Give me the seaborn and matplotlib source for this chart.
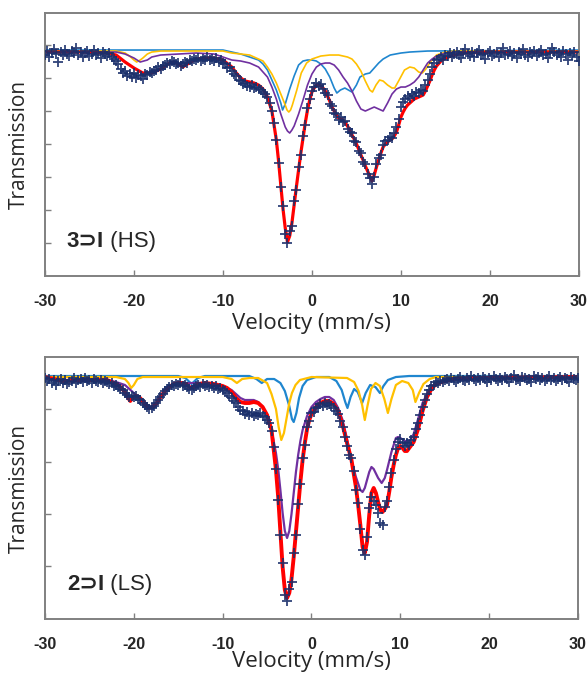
import numpy as np
import matplotlib
matplotlib.use("Agg")
import matplotlib.pyplot as plt
import seaborn as sns

sns.set_style("ticks")

# channel velocities, mm/s (0.25 mm/s per channel)
velocity = np.linspace(-30, 30, 241)

# ---------------- 3>I (HS) ----------------
# measured absorption (% below baseline), one row per mm/s
hs_data = [
    0.4, 0.0, 0.6, 0.2,  -0.2, 0.3, 1.1, 0.1,  0.4, -0.1, 0.3, 0.5,  0.0, 0.2, -0.3, 0.4,
    0.1, 0.6, 0.2, 0.0,  0.5, 0.3, -0.1, 0.4,  0.2, 0.7, 0.1, 0.3,  0.5, 0.2, 0.6, 0.8,
    1.0, 1.3, 1.8, 2.2,  2.0, 2.5, 2.3, 2.6,  2.2, 2.7, 2.4, 2.5,  2.8, 2.3, 2.4, 2.1,
    2.2, 2.0, 1.9, 1.6,  1.8, 1.5, 1.4, 1.2,  1.3, 1.0, 1.1, 1.3,  1.2, 1.5, 1.3, 1.1,
    1.2, 0.9, 1.0, 0.8,  0.9, 0.7, 1.0, 0.8,  0.9, 0.6, 0.9, 0.8,  1.0, 0.7, 1.1, 0.9,
    1.2, 1.3, 1.7, 1.6,  2.0, 2.3, 2.5, 2.9,  3.0, 3.3, 3.2, 3.5,  3.6, 3.4, 3.7, 3.6,
    3.8, 3.9, 4.1, 4.3,  4.6, 5.2, 6.0, 7.2,  8.9, 11.2, 13.6, 15.5,  18.3, 19.2, 18.0, 17.5,
    15.0, 13.9, 11.6, 10.4,  8.5, 7.4, 5.7, 4.8,  4.0, 3.6, 3.2, 3.5,  3.3, 3.8, 4.2, 4.4,
    5.3, 5.5, 6.2, 6.3,  6.9, 6.6, 7.1, 7.0,  7.8, 8.1, 8.2, 9.0,  9.1, 10.0, 10.2, 11.1,
    11.3, 12.3, 12.7, 13.3,  12.6, 11.3, 10.7, 10.4,  9.4, 9.0, 8.9, 8.6,  8.7, 8.2, 7.6, 6.8,
    5.6, 5.1, 4.8, 4.5,  4.7, 4.3, 4.5, 4.1,  4.2, 3.9, 4.0, 3.4,  2.9, 2.3, 1.6, 1.2,
    0.9, 0.8, 0.6, 0.9,  0.4, 0.5, 0.2, 0.6,  0.3, 0.1, 0.4, 0.7,  0.2, -0.2, 0.3, 0.5,
    0.1, 0.6, 0.2, -0.1,  0.4, 0.3, 0.8, 0.2,  0.0, 0.5, 0.3, 0.1,  0.6, 0.2, -0.3, 0.4,
    0.3, 0.0, 0.5, 0.2,  0.7, 0.1, 0.3, -0.2,  0.4, 0.6, 0.1, 0.3,  0.0, 0.5, 0.2, -0.1,
    0.4, 0.3, 0.7, 0.2,  -0.3, 0.1, 0.4, 0.2,  0.6, 0.0, 0.3, 0.9,  0.2, 0.4, 0.1, 0.6,
    1.0,
]

hs_total_v = [-30, -26, -23, -22, -21, -20, -19, -18, -17, -16, -15.5, -15, -14.5, -14, -13, -12,
              -11, -10, -9, -8.5, -8, -7.5, -7, -6.5, -6, -5.5, -5, -4.5, -4, -3.75, -3.5, -3.25,
              -3, -2.75, -2.5, -2.25, -2, -1.75, -1.5, -1.25, -1, -0.75, -0.5, -0.25, 0, 0.25,
              0.5, 0.75, 1, 1.25, 1.5, 1.75, 2, 2.25, 2.5, 2.75, 3, 3.25, 3.5, 3.75, 4, 4.25,
              4.5, 4.75, 5, 5.25, 5.5, 5.75, 6, 6.25, 6.5, 6.75, 7, 7.25, 7.5, 7.75, 8, 8.25,
              8.5, 8.75, 9, 9.25, 9.5, 9.75, 10, 10.25, 10.5, 10.75, 11, 11.25, 11.5, 11.75, 12,
              12.25, 12.5, 12.75, 13, 13.25, 13.5, 13.75, 14, 14.5, 15, 16, 17, 20, 30]
hs_total_a = [0.1, 0.1, 0.2, 0.4, 1.1, 1.7, 2.2, 2.2, 1.8, 1.2, 1.1, 1.3, 1.6, 1.3, 0.8, 0.7,
              0.7, 0.9, 1.6, 2.2, 2.7, 3.0, 3.1, 3.2, 3.4, 3.8, 4.6, 6.0, 8.9, 11.0, 13.4, 15.8,
              17.7, 19.1, 18.5, 17.2, 15.4, 13.6, 11.9, 10.2, 8.7, 7.2, 5.9, 4.9, 4.1, 3.7,
              3.4, 3.4, 3.5, 3.7, 4.0, 4.5, 5.0, 5.6, 6.0, 6.4, 6.7, 6.8, 6.9, 7.2, 7.5, 7.9,
              8.4, 8.8, 9.3, 9.8, 10.4, 10.9, 11.5, 12.0, 12.5, 13.0, 12.4, 11.6, 10.9, 10.2, 9.6, 9.3,
              9.1, 8.9, 8.8, 8.5, 8.1, 7.4, 6.6, 6.1, 5.7, 5.4, 5.2, 5.0, 4.8, 4.7, 4.6,
              4.5, 4.4, 4.0, 3.5, 3.0, 2.4, 1.9, 1.5, 1.0, 0.7, 0.4, 0.2, 0.1, 0.1]

hs_purple_v = [-30, -22, -21, -20, -19.3, -18.5, -18, -17, -15, -13, -11, -9, -8, -7, -6, -5.5,
               -5, -4.5, -4, -3.5, -3, -2.75, -2.5, -2.25, -2, -1.5, -1, -0.5, 0, 0.5, 1, 1.5,
               2, 2.5, 3, 3.5, 4, 4.5, 5, 5.5, 6, 6.5, 7, 7.5, 8, 8.5, 9, 9.5, 10, 10.5, 11,
               11.5, 12, 12.5, 13, 13.5, 14, 15, 16, 30]
hs_purple_a = [0.1, 0.1, 0.3, 0.7, 1.1, 0.9, 0.6, 0.4, 0.3, 0.2, 0.3, 0.9, 1.0, 1.2, 1.6, 2.1,
               2.6, 3.6, 4.8, 6.3, 7.6, 8.0, 8.2, 7.9, 7.5, 6.3, 4.9, 3.4, 2.3, 1.6, 1.3, 1.2,
               1.2, 1.4, 1.9, 2.6, 3.2, 4.0, 5.0, 5.8, 6.0, 5.8, 5.6, 5.8, 6.0, 5.2, 4.3, 3.8,
               3.6, 3.6, 3.4, 3.1, 2.6, 1.9, 1.2, 0.8, 0.5, 0.2, 0.1, 0.1]

hs_yellow_v = [-30, -22, -21, -20.5, -20, -19.7, -19.3, -19, -18.5, -18, -17, -10, -9, -7, -6,
               -5.5, -5, -4.5, -4, -3.5, -3, -2.8, -2.6, -2.4, -2.2, -1.7, -1.2, -0.6, 0, 1, 2,
               3, 3.5, 4, 4.5, 5, 5.5, 6, 6.5, 6.8, 7.2, 7.6, 8, 8.5, 9, 9.3, 9.8, 10.4, 11,
               11.5, 12, 12.4, 12.8, 13.3, 14, 15, 16, 30]
hs_yellow_a = [0.0, 0.0, 0.2, 0.5, 0.9, 1.1, 0.9, 0.7, 0.3, 0.1, 0.0, 0.0, 0.2, 0.4, 0.8,
               1.0, 1.6, 2.3, 3.2, 4.3, 5.4, 5.9, 6.1, 5.9, 5.4, 3.9, 2.2, 1.2, 0.8, 0.5, 0.4,
               0.4, 0.5, 0.6, 0.8, 1.3, 2.0, 3.0, 3.9, 4.1, 3.4, 2.9, 3.0, 3.4, 3.7, 3.7, 2.9,
               1.9, 1.6, 1.7, 2.1, 2.2, 1.8, 1.1, 0.4, 0.1, 0.0, 0.0]

hs_blue_v = [-30, -10, -9, -8, -7, -6, -5.5, -5, -4.5, -4, -3.5, -3.3, -3, -2.5, -2, -1.5, -1,
             -0.5, 0, 0.5, 1, 1.5, 2, 2.5, 2.8, 3.2, 3.7, 4.1, 4.5, 5, 5.4, 6, 6.5, 7, 7.5, 8,
             8.8, 10, 11, 13, 30]
hs_blue_a = [-0.1, -0.1, 0.1, 0.3, 0.6, 0.9, 1.3, 1.9, 2.9, 3.9, 5.2, 5.9, 5.3, 3.8, 2.5, 1.4,
             1.0, 0.9, 0.9, 1.0, 1.3, 1.8, 2.6, 3.7, 4.2, 3.9, 3.7, 3.9, 4.1, 3.4, 2.6, 2.3,
             2.2, 1.7, 1.2, 0.8, 0.4, 0.2, 0.1, 0.0, -0.1]

# ---------------- 2>I (LS) ----------------
ls_data = [
    0.1, 0.4, 0.2, 0.6,  0.3, 0.8, 0.4, 0.2,  0.6, 0.3, 0.7, 0.5,  0.4, 0.1, 0.6, 0.3,
    0.2, 0.5, 0.1, 0.4,  0.3, 0.6, 0.2, 0.4,  0.5, 0.3, 0.6, 0.4,  0.5, 0.7, 0.6, 0.9,
    0.8, 1.0, 1.2, 1.3,  1.6, 1.8, 2.0, 1.9,  2.0, 1.9, 2.2, 2.3,  2.6, 2.8, 3.0, 3.2,
    3.1, 2.9, 2.6, 2.3,  2.0, 1.7, 1.4, 1.2,  1.0, 0.8, 0.9, 0.7,  0.8, 0.6, 0.9, 0.8,
    1.0, 1.2, 1.3, 1.1,  0.9, 0.8, 1.0, 0.7,  0.9, 0.8, 1.0, 0.9,  1.1, 0.9, 1.2, 1.1,
    1.3, 1.4, 1.6, 1.9,  2.1, 2.4, 2.6, 3.0,  3.3, 3.4, 3.7, 3.5,  3.8, 3.6, 3.9, 3.7,
    3.8, 3.6, 3.9, 4.0,  4.3, 4.6, 5.4, 7.0,  9.2, 12.3, 15.8, 18.6,  21.8, 22.4, 21.2, 20.5,
    17.6, 15.8, 12.7, 10.7,  8.1, 6.8, 5.0, 4.4,  3.6, 3.5, 3.1, 3.0,  2.7, 2.9, 2.6, 2.8,
    2.7, 2.9, 3.1, 3.4,  3.7, 4.4, 5.0, 6.0,  6.9, 7.8, 8.1, 9.4,  11.3, 12.6, 15.2, 17.3,
    17.8, 16.0, 13.1, 12.0,  12.4, 12.8, 13.6, 14.6,  14.8, 13.0, 12.4, 11.0,  9.6, 8.3, 7.2, 6.5,
    6.2, 6.6, 6.9, 6.6,  6.8, 6.3, 6.0, 5.2,  4.6, 3.8, 3.0, 2.3,  1.7, 1.3, 0.9, 0.8,
    0.5, 0.6, 0.4, 0.5,  0.3, 0.2, 0.4, 0.1,  0.3, 0.5, 0.2, 0.0,  0.3, 0.4, 0.1, 0.3,
    -0.1, 0.2, 0.4, 0.1,  0.3, 0.0, 0.2, 0.5,  0.1, 0.3, -0.1, 0.2,  0.4, 0.1, 0.3, 0.0,
    0.2, 0.5, 0.1, -0.2,  0.3, 0.2, 0.4, 0.0,  0.1, 0.3, 0.2, 0.5,  -0.1, 0.2, 0.0, 0.3,
    0.1, 0.4, 0.2, -0.1,  0.3, 0.1, 0.4, 0.2,  0.0, 0.3, 0.1, 0.2,  0.5, 0.0, 0.2, 0.3,
    0.1,
]

ls_total_v = [-30, -28, -26, -24, -23, -22, -21.5, -21, -20.7, -20.4, -20.1, -19.7, -19.3, -18.8,
              -18.3, -17.9, -17.4, -17, -16.5, -16, -15.5, -15, -14.5, -14, -13.6, -13.2, -12.7,
              -12, -11, -10, -9.5, -9, -8.5, -8, -7.5, -7, -6.5, -6, -5.5, -5, -4.5, -4, -3.75,
              -3.5, -3.25, -3, -2.75, -2.5, -2.25, -2, -1.75, -1.5, -1.25, -1, -0.75, -0.5,
              -0.25, 0, 0.5, 1, 1.5, 2, 2.5, 3, 3.5, 4, 4.5, 5, 5.25, 5.5, 5.75, 6, 6.25, 6.5,
              6.75, 7, 7.25, 7.5, 7.75, 8, 8.25, 8.5, 8.75, 9, 9.25, 9.5, 9.75, 10, 10.25, 10.5,
              10.75, 11, 11.5, 12, 12.5, 13, 13.5, 14, 15, 16, 18, 30]
ls_total_a = [0.0, 0.4, 0.3, 0.3, 0.3, 0.7, 1.0, 1.5, 2.0, 2.4, 2.0, 1.9, 2.1, 2.6,
              3.1, 3.0, 2.6, 2.0, 1.4, 1.0, 0.7, 0.6, 0.6, 0.8, 1.1, 1.0, 0.7,
              0.6, 0.7, 0.9, 1.1, 1.5, 2.1, 2.5, 2.6, 2.6, 2.5, 2.6, 3.0, 3.8, 5.3, 9.3, 12.0,
              15.5, 19.0, 21.3, 22.1, 21.6, 20.2, 18.0, 15.5, 13.0, 10.5, 8.3, 6.6, 5.2,
              4.3, 3.7, 3.0, 2.6, 2.4, 2.4, 2.7, 3.4, 4.8, 6.6, 8.3, 11.0, 12.8, 14.8, 17.0, 17.6, 16.5, 13.8,
              11.6, 11.1, 11.6, 12.5, 13.3, 13.5, 13.2, 12.8, 11.5, 10.0, 8.8, 7.8, 7.1, 6.9, 7.1, 7.4,
              7.4, 7.1, 6.5, 5.2, 3.4, 2.0, 1.2, 0.7, 0.4, 0.2, 0.1, 0.0]

ls_purple_v = [-30, -28, -26, -24, -23, -22, -21, -20.5, -20, -19.5, -19, -18.5, -18.2, -17.8,
               -17.4, -17, -16.5, -16, -15.5, -15, -14, -13, -12, -11, -10, -9.5, -9, -8.5, -8,
               -7.5, -7, -6.5, -6, -5.5, -5, -4.5, -4, -3.75, -3.5, -3.25, -3, -2.75, -2.5,
               -2.25, -2, -1.75, -1.5, -1.25, -1, -0.5, 0, 0.5, 1, 1.5, 2, 2.5, 3, 3.5, 4, 4.5,
               5, 5.5, 5.75, 6, 6.5, 6.75, 7, 7.5, 7.9, 8.25, 8.5, 9, 9.5, 9.75, 10, 10.5, 11,
               11.5, 12, 12.5, 13, 13.5, 14, 15, 16, 18, 30]
ls_purple_a = [0.0, 0.4, 0.4, 0.3, 0.3, 0.5, 0.8, 1.2, 1.6, 2.1, 2.6, 3.0, 3.1, 3.0,
               2.6, 2.0, 1.4, 1.0, 0.7, 0.6, 0.6, 0.6, 0.6, 0.7, 0.9, 1.1, 1.3, 1.7, 2.1,
               2.3, 2.3, 2.3, 2.5, 3.0, 3.8, 5.3, 7.6, 9.2, 11.3, 13.6, 15.4, 16.1, 15.4,
               13.7, 11.6, 9.5, 7.8, 6.4, 5.3, 3.9, 3.0, 2.5, 2.2, 2.0, 2.0, 2.3, 3.1, 4.3, 6.2, 8.3,
               10.0, 11.3, 11.5, 11.1, 9.5, 9.0, 9.2, 10.1, 10.6, 10.1, 9.3, 7.5, 6.1, 6.0, 6.1, 6.4, 6.5,
               5.7, 4.2, 2.6, 1.7, 1.0, 0.6, 0.3, 0.2, 0.1, 0.0]

ls_yellow_v = [-30, -22, -21, -20.6, -20.3, -20.0, -19.6, -19, -10, -9, -8.4, -7.8, -7, -6, -5,
               -4.5, -4, -3.7, -3.4, -3.1, -2.8, -2.5, -2.2, -1.8, -1.3, 0, 4, 4.8, 5.3, 5.7,
               6.0, 6.3, 6.7, 7.2, 7.7, 8.2, 8.6, 9.0, 9.5, 10.2, 10.9, 11.4, 11.7, 12.1, 12.6,
               13.3, 14, 30]
ls_yellow_a = [0.0, 0.0, 0.2, 0.6, 1.1, 0.8, 0.2, 0.0, 0.0, 0.2, 0.6, 0.2, 0.1, 0.1, 0.6,
               1.7, 3.2, 5.0, 6.3, 5.6, 4.1, 2.6, 1.6, 0.8, 0.3, 0.0, 0.1, 0.5, 1.4, 2.8,
               4.3, 2.9, 1.2, 0.6, 0.9, 2.2, 3.6, 2.2, 0.8, 0.4, 0.6, 1.3, 2.5, 1.6, 0.7,
               0.2, 0.0, 0.0]

ls_blue_v = [-30, -15, -14.2, -13.5, -12.8, -12, -7, -6.2, -5.6, -5.0, -4.2, -3.5, -3.0, -2.5,
             -2.2, -2.0, -1.7, -1.4, -1.0, -0.5, 0.5, 2, 2.8, 3.4, 3.8, 4.05, 4.4, 4.8, 5.2,
             5.7, 6.1, 6.6, 7.2, 7.7, 8.1, 8.6, 9.5, 11, 30]
ls_blue_a = [-0.1, -0.1, 0.1, 0.7, 0.1, -0.1, -0.1, 0.2, 0.6, 0.2, 0.2, 0.6, 1.4, 2.9,
             4.2, 4.5, 3.6, 2.1, 0.9, 0.3, 0.0, 0.0, 0.4, 1.3, 2.5, 3.1, 2.0, 1.2, 1.5,
             2.6, 1.6, 0.8, 1.0, 1.6, 0.9, 0.3, 0.0, -0.1, -0.1]

xticks = [-30, -20, -10, 0, 10, 20, 30]

RED, PURPLE, YELLOW, BLUE, NAVY = "#FF0000", "#7030A0", "#FFC000", "#1F86CF", "#1A2F6B"
GRAY = "#808080"
TEXT_FONT = ["Liberation Sans", "DejaVu Sans"]


def trans(a):
    # transmission (%) from absorption below baseline
    return 100 - np.asarray(a, dtype=float)


def draw_panel(ax, data, curves, label_bold, label_rest, ylim, yticks, xlabelpad):
    for (v, a, c, lw) in curves:
        sns.lineplot(x=v, y=trans(a), ax=ax, color=c, linewidth=lw, sort=False,
                     estimator=None, zorder=2)
    sns.scatterplot(x=velocity, y=trans(data), ax=ax, marker="+", s=42,
                    color=NAVY, linewidth=1.3, alpha=0.9, zorder=5)
    ax.set_xlim(-30, 30)
    ax.set_ylim(*ylim)
    ax.set_xticks(xticks)
    ax.set_xticklabels([str(t) for t in xticks], fontsize=11.5, fontweight="bold",
                       family="Liberation Sans")
    ax.set_yticks(yticks)
    ax.set_yticklabels([])
    ax.tick_params(direction="in", length=4, width=1, color=GRAY, pad=13)
    for s in ax.spines.values():
        s.set_visible(True)
        s.set_color(GRAY)
        s.set_linewidth(1.4)
    ax.set_xlabel("Velocity (mm/s)", fontsize=16, family="Open Sans", labelpad=xlabelpad)
    ax.set_ylabel("Transmission", fontsize=15, family="Open Sans")
    ax.yaxis.set_label_coords(-0.028, 0.5)
    t1 = ax.text(0.041, 0.13, label_bold, transform=ax.transAxes, fontsize=16,
                 fontweight="bold", family=TEXT_FONT, va="center", ha="left")
    ax.annotate(label_rest, xy=(1, 0.5), xycoords=t1, fontsize=16, family=TEXT_FONT,
                va="center", ha="left")


fig = plt.figure(figsize=(5.88, 6.75), dpi=100)
ax_hs = fig.add_axes([0.0765, 0.5911, 0.908, 0.3896])
ax_ls = fig.add_axes([0.0765, 0.0830, 0.9065, 0.3881])

draw_panel(ax_hs, hs_data,
           [(hs_blue_v, hs_blue_a, BLUE, 1.2), (hs_yellow_v, hs_yellow_a, YELLOW, 1.2),
            (hs_purple_v, hs_purple_a, PURPLE, 1.2), (hs_total_v, hs_total_a, RED, 2.3)],
           "3\u2283I", " (HS)", (77.5, 103.8), [100.6 - 3.3 * k for k in range(7)], 3)

draw_panel(ax_ls, ls_data,
           [(ls_blue_v, ls_blue_a, BLUE, 1.6), (ls_yellow_v, ls_yellow_a, YELLOW, 1.6),
            (ls_purple_v, ls_purple_a, PURPLE, 1.6), (ls_total_v, ls_total_a, RED, 2.8)],
           "2\u2283I", " (LS)", (75.8, 102.0), [102.0 - 5.23 * k for k in range(1, 5)], -1)

fig.savefig("out.png", dpi=100)
